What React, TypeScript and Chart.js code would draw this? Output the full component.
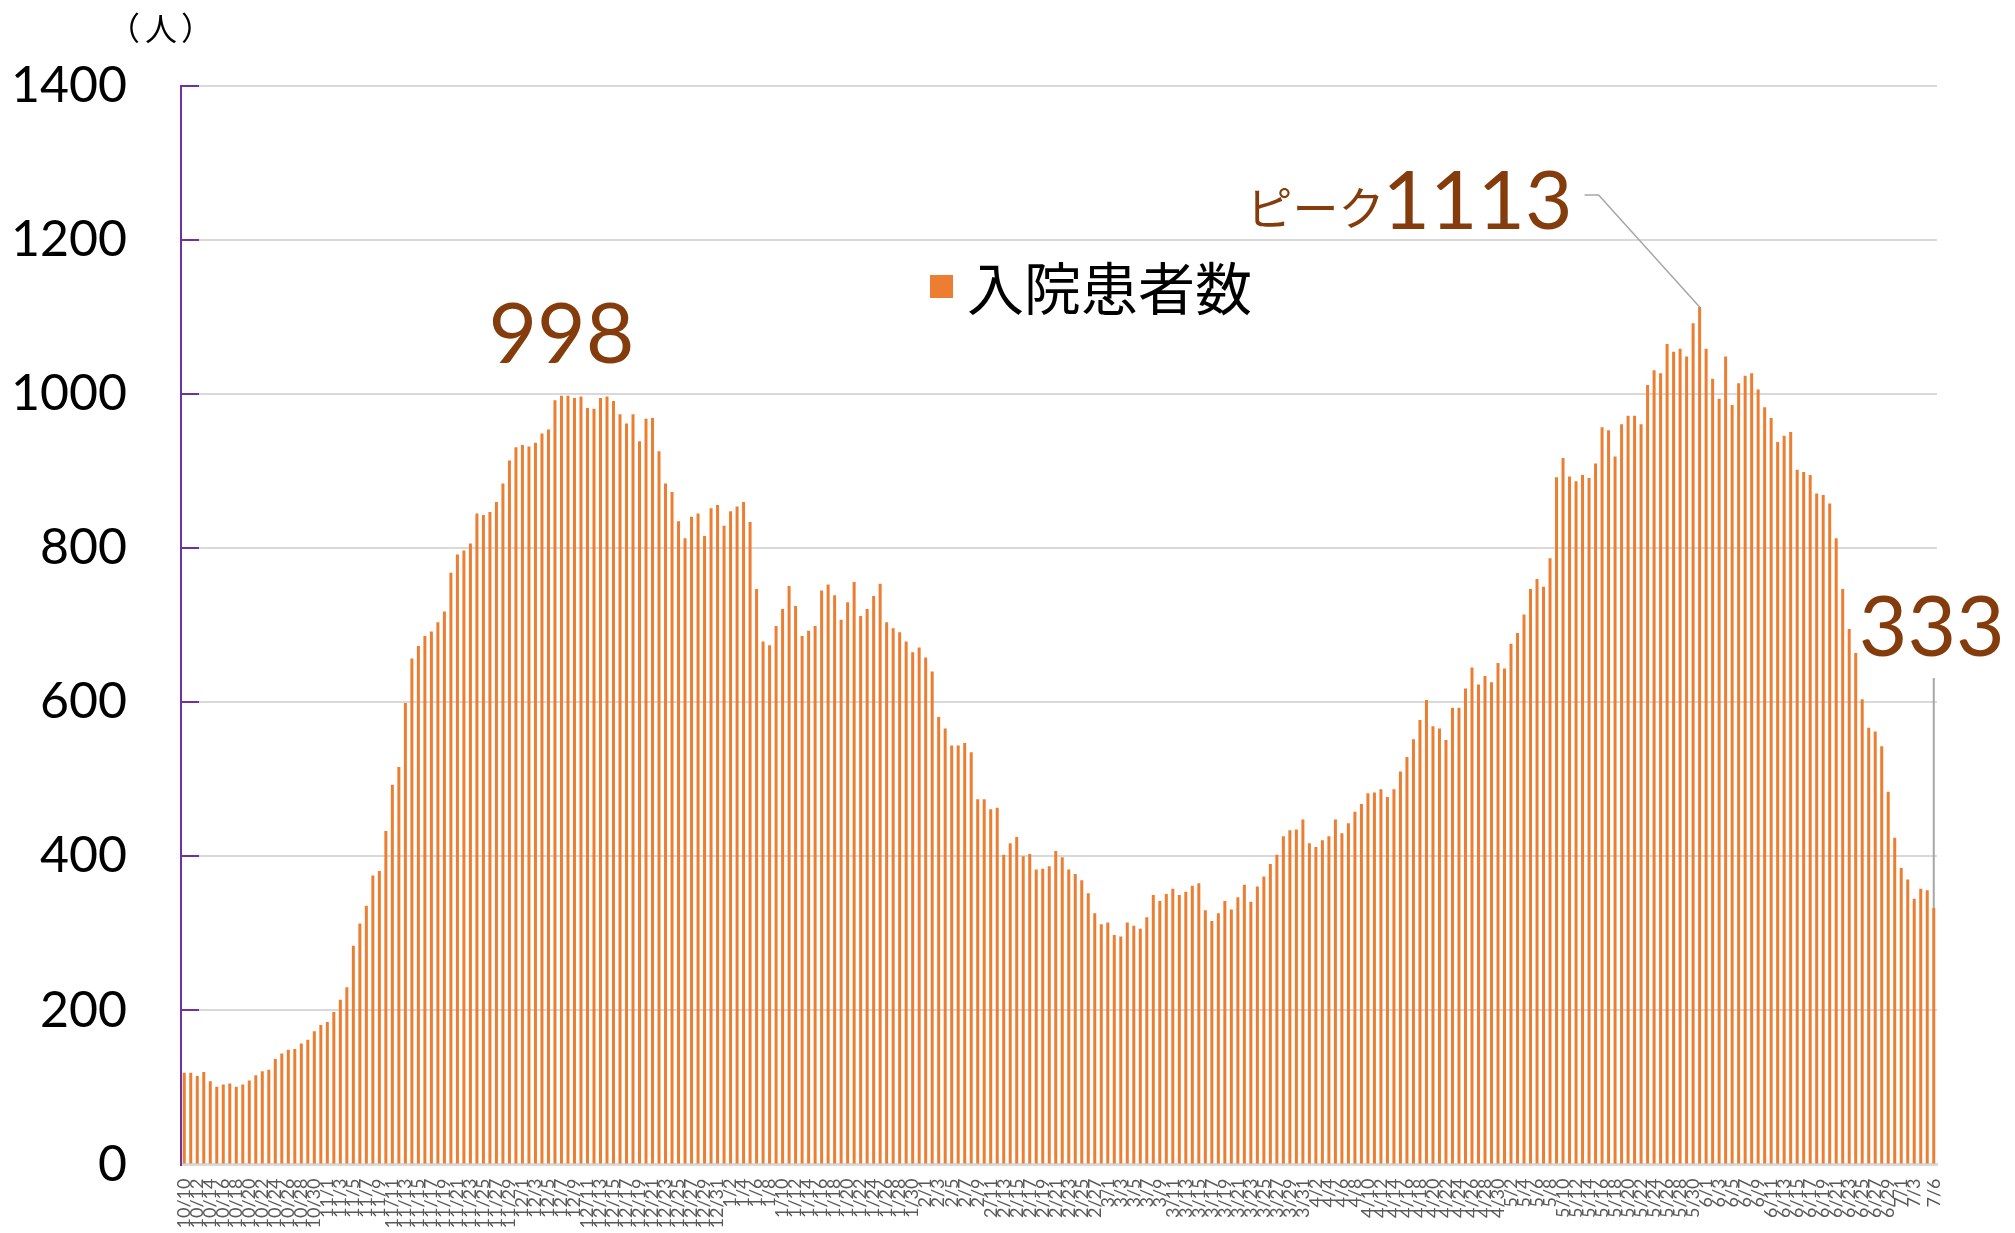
import React, { useEffect, useRef } from "react";
import { Chart, registerables } from "chart.js";

Chart.register(...registerables);

// ---- categories (dates) ----
const DATES_OCT = ["10/10","10/11","10/12","10/13","10/14","10/15","10/16","10/17","10/18","10/19","10/20","10/21","10/22","10/23","10/24","10/25","10/26","10/27","10/28","10/29","10/30","10/31"];
const DATES_NOV = ["11/1","11/2","11/3","11/4","11/5","11/6","11/7","11/8","11/9","11/10","11/11","11/12","11/13","11/14","11/15","11/16","11/17","11/18","11/19","11/20","11/21","11/22","11/23","11/24","11/25","11/26","11/27","11/28","11/29","11/30"];
const DATES_DEC = ["12/1","12/2","12/3","12/4","12/5","12/6","12/7","12/8","12/9","12/10","12/11","12/12","12/13","12/14","12/15","12/16","12/17","12/18","12/19","12/20","12/21","12/22","12/23","12/24","12/25","12/26","12/27","12/28","12/29","12/30","12/31"];
const DATES_JAN = ["1/1","1/2","1/3","1/4","1/5","1/6","1/7","1/8","1/9","1/10","1/11","1/12","1/13","1/14","1/15","1/16","1/17","1/18","1/19","1/20","1/21","1/22","1/23","1/24","1/25","1/26","1/27","1/28","1/29","1/30","1/31"];
const DATES_FEB = ["2/1","2/2","2/3","2/4","2/5","2/6","2/7","2/8","2/9","2/10","2/11","2/12","2/13","2/14","2/15","2/16","2/17","2/18","2/19","2/20","2/21","2/22","2/23","2/24","2/25","2/26","2/27","2/28"];
const DATES_MAR = ["3/1","3/2","3/3","3/4","3/5","3/6","3/7","3/8","3/9","3/10","3/11","3/12","3/13","3/14","3/15","3/16","3/17","3/18","3/19","3/20","3/21","3/22","3/23","3/24","3/25","3/26","3/27","3/28","3/29","3/30","3/31"];
const DATES_APR = ["4/1","4/2","4/3","4/4","4/5","4/6","4/7","4/8","4/9","4/10","4/11","4/12","4/13","4/14","4/15","4/16","4/17","4/18","4/19","4/20","4/21","4/22","4/23","4/24","4/25","4/26","4/27","4/28","4/29","4/30"];
const DATES_MAY = ["5/1","5/2","5/3","5/4","5/5","5/6","5/7","5/8","5/9","5/10","5/11","5/12","5/13","5/14","5/15","5/16","5/17","5/18","5/19","5/20","5/21","5/22","5/23","5/24","5/25","5/26","5/27","5/28","5/29","5/30","5/31"];
const DATES_JUN = ["6/1","6/2","6/3","6/4","6/5","6/6","6/7","6/8","6/9","6/10","6/11","6/12","6/13","6/14","6/15","6/16","6/17","6/18","6/19","6/20","6/21","6/22","6/23","6/24","6/25","6/26","6/27","6/28","6/29","6/30"];
const DATES_JUL = ["7/1","7/2","7/3","7/4","7/5","7/6"];

const CATEGORIES: string[] = [
  ...DATES_OCT, ...DATES_NOV, ...DATES_DEC, ...DATES_JAN, ...DATES_FEB,
  ...DATES_MAR, ...DATES_APR, ...DATES_MAY, ...DATES_JUN, ...DATES_JUL,
];

// ---- series values (入院患者数) ----
const VALUES_OCT_NOV = [119,119,115,120,108,101,104,105,101,104,109,116,121,123,137,144,149,150,157,162,173,181,185,198,214,230,284,313,336,375,381,433,493,516];
const VALUES_NOV_DEC = [599,657,673,686,692,704,718,768,792,797,806,845,843,847,860,884,914,931,934,932,937,949,954,992,998,998,995,997,982,981,995,997,991,974,962];
const VALUES_DEC_JAN = [974,939,968,969,926,884,873,835,813,841,845,816,852,856,829,848,854,860,834,747,679,674,699,721,751,725,686,693,699,745,753,739,707];
const VALUES_JAN_FEB = [730,756,712,721,738,754,704,696,691,679,665,671,658,640,581,566,544,544,547,535,474,474,461,463,402,417,425,400,403,383,384,387,407,399];
const VALUES_FEB_MAR = [383,377,369,352,326,312,314,298,296,314,310,306,321,350,342,351,358,350,354,362,365,330,316,326,342,331,347,363,341,361,374,390,402,426];
const VALUES_MAR_MAY = [434,435,448,417,412,421,426,448,430,443,458,468,482,483,487,477,487,510,529,552,577,603,569,566,551,593,593,618,645,623,634,626,651,644,676,690];
const VALUES_MAY_JUN = [714,747,760,750,787,892,917,893,887,895,891,910,957,953,919,961,972,972,961,1012,1031,1027,1065,1055,1059,1049,1092,1113,1059,1020,994,1049];
const VALUES_JUN_JUL = [986,1014,1024,1027,1006,983,969,938,946,951,902,899,895,871,869,858,813,747,695,664,604,567,562,543,484,424,385,370,345,358,356,333];

const INPATIENTS: number[] = [
  ...VALUES_OCT_NOV, ...VALUES_NOV_DEC, ...VALUES_DEC_JAN, ...VALUES_JAN_FEB,
  ...VALUES_FEB_MAR, ...VALUES_MAR_MAY, ...VALUES_MAY_JUN, ...VALUES_JUN_JUL,
];

const Y_TICKS = [0, 200, 400, 600, 800, 1000, 1200, 1400];
const SERIES_LABEL = "入院患者数";
const UNIT_OPEN = "（";
const UNIT_CHAR = "人";
const UNIT_CLOSE = "）";
const PEAK_PREFIX = "ピーク";

const BAR_COLOR = "#ED7D31";
const NOTE_COLOR = "#843C0C";
const LEADER_COLOR = "#A6A6A6";
const AXIS_PURPLE = "#7030A0";
const GRID_COLOR = "#D9D9D9";

function argMax(arr: number[], from: number, to: number) {
  let best = from;
  for (let i = from; i < to; i++) if (arr[i] > arr[best]) best = i;
  return best;
}

function tickLabel(index: number) {
  const last = CATEGORIES.length - 1;
  if (index === last) return CATEGORIES[index];
  if (index === last - 1) return "";
  return index % 2 === 0 ? CATEGORIES[index] : "";
}

const overlayPlugin = {
  id: "overlay",
  afterDraw(chart: any) {
    const { ctx, chartArea, scales } = chart;
    const x = scales.x;
    const y = scales.y;
    ctx.save();

    // inward purple tick marks on the value axis
    ctx.strokeStyle = AXIS_PURPLE;
    ctx.lineWidth = 2;
    for (const v of Y_TICKS) {
      if (v === 0) continue;
      const py = Math.round(y.getPixelForValue(v));
      ctx.beginPath();
      ctx.moveTo(chartArea.left, py);
      ctx.lineTo(chartArea.left + 18, py);
      ctx.stroke();
    }

    // unit label （人）
    ctx.fillStyle = "#000000";
    ctx.textBaseline = "middle";
    ctx.textAlign = "center";
    ctx.font = '32px "Noto Sans CJK JP"';
    ctx.fillText(UNIT_OPEN, 124, 28);
    ctx.fillText(UNIT_CHAR, 161, 29);
    ctx.fillText(UNIT_CLOSE, 197, 28);

    // legend
    ctx.fillStyle = BAR_COLOR;
    ctx.fillRect(930, 275, 23, 23);
    ctx.fillStyle = "#000000";
    ctx.font = '57px "Noto Sans CJK JP"';
    ctx.textAlign = "left";
    ctx.textBaseline = "middle";
    ctx.fillText(SERIES_LABEL, 967, 288);

    // annotation: first wave peak
    const n = INPATIENTS.length;
    const i1 = argMax(INPATIENTS, 0, 120);
    const p1x = x.getPixelForValue(i1);
    const p1y = y.getPixelForValue(INPATIENTS[i1]);
    ctx.fillStyle = NOTE_COLOR;
    ctx.font = '84px Lato';
    ctx.textAlign = "center";
    ctx.textBaseline = "alphabetic";
    ctx.fillText(String(INPATIENTS[i1]), p1x, p1y - 33);

    // annotation: overall peak
    const i2 = argMax(INPATIENTS, 0, n);
    const p2x = x.getPixelForValue(i2);
    const p2y = y.getPixelForValue(INPATIENTS[i2]);
    const numText = String(INPATIENTS[i2]);
    ctx.font = '82px Lato';
    ctx.textAlign = "right";
    const numRight = p2x - 127;
    const base2 = p2y - 78;
    ctx.fillText(numText, numRight, base2);
    const numW = ctx.measureText(numText).width;
    ctx.font = '46px "Noto Sans CJK JP"';
    ctx.fillText(PEAK_PREFIX, numRight - numW + 2, base2 - 4);
    ctx.strokeStyle = LEADER_COLOR;
    ctx.lineWidth = 1.5;
    ctx.beginPath();
    ctx.moveTo(p2x - 115, p2y - 112);
    ctx.lineTo(p2x - 101, p2y - 112);
    ctx.lineTo(p2x, p2y);
    ctx.stroke();

    // annotation: latest value
    const i3 = n - 1;
    const p3x = x.getPixelForValue(i3);
    const p3y = y.getPixelForValue(INPATIENTS[i3]);
    ctx.font = '84px Lato';
    ctx.textAlign = "center";
    ctx.fillStyle = NOTE_COLOR;
    ctx.fillText(String(INPATIENTS[i3]), p3x - 2, p3y - 252);
    ctx.strokeStyle = LEADER_COLOR;
    ctx.lineWidth = 2;
    ctx.beginPath();
    ctx.moveTo(p3x, p3y - 230);
    ctx.lineTo(p3x, p3y);
    ctx.stroke();

    ctx.restore();
  },
};

export default function App() {
  const canvasRef = useRef<HTMLCanvasElement | null>(null);

  useEffect(() => {
    const canvas = canvasRef.current;
    if (!canvas) return;
    const chart = new Chart(canvas, {
      type: "bar",
      data: {
        labels: CATEGORIES,
        datasets: [
          {
            label: SERIES_LABEL,
            data: INPATIENTS,
            backgroundColor: BAR_COLOR,
            borderWidth: 0,
            barPercentage: 0.46,
            categoryPercentage: 1,
          },
        ],
      },
      options: {
        responsive: false,
        animation: false,
        events: [],
        layout: { padding: { top: 86, right: 78, left: 0, bottom: 0 } },
        plugins: {
          legend: { display: false },
          tooltip: { enabled: false },
        },
        scales: {
          x: {
            type: "category",
            grid: { display: false, drawTicks: false },
            border: { display: true, color: GRID_COLOR, width: 3 },
            ticks: {
              autoSkip: false,
              minRotation: 90,
              maxRotation: 90,
              padding: 14,
              color: "#595959",
              font: { family: "Lato", size: 18 },
              callback: (_v: any, index: number) => tickLabel(index),
            },
            afterFit: (scale: any) => {
              scale.height = 68.5;
              scale.paddingTop = 0;
              scale.paddingBottom = 0;
            },
          },
          y: {
            min: 0,
            max: 1400,
            grid: { color: GRID_COLOR, lineWidth: 2, drawTicks: false },
            border: { display: true, color: AXIS_PURPLE, width: 2 },
            ticks: {
              stepSize: 200,
              padding: 54,
              color: "#000000",
              font: { family: "Lato", size: 50 },
              callback: (v: any) => String(v),
            },
            afterFit: (scale: any) => {
              scale.width = 181;
              scale.paddingTop = 0;
              scale.paddingBottom = 0;
            },
          },
        },
      },
      plugins: [overlayPlugin],
    });
    return () => chart.destroy();
  }, []);

  return (
    <div style={{ position: "absolute", left: 0, top: 0, width: 2015, height: 1233, background: "#ffffff" }}>
      <canvas ref={canvasRef} width={2015} height={1233} style={{ width: 2015, height: 1233, display: "block" }} />
    </div>
  );
}
